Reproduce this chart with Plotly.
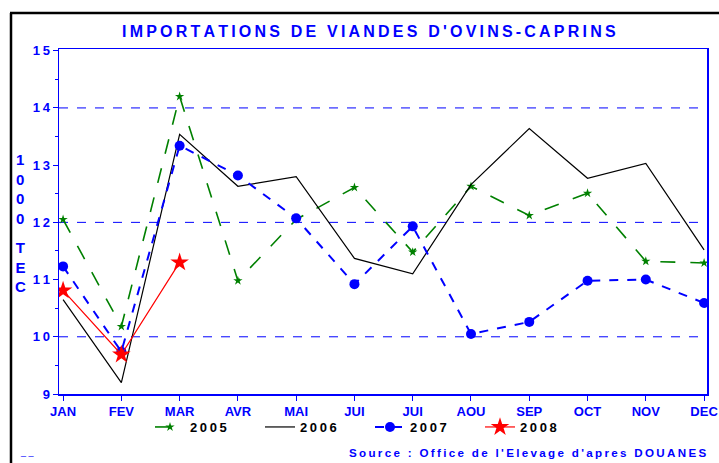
import plotly.graph_objects as go

months = ["JAN", "FEV", "MAR", "AVR", "MAI", "JUI", "JUI", "AOU", "SEP", "OCT", "NOV", "DEC"]
v2005 = [12.05, 10.18, 14.20, 10.98, 12.05, 12.61, 11.48, 12.63, 12.12, 12.51, 11.32, 11.29]
v2006 = [10.65, 9.20, 13.54, 12.63, 12.80, 11.37, 11.10, 12.66, 13.64, 12.77, 13.03, 11.52]
v2007 = [11.23, 9.74, 13.34, 12.82, 12.07, 10.92, 11.93, 10.05, 10.26, 10.98, 11.00, 10.59]
v2008 = [10.81, 9.69, 11.30]
ytick_vals = [9, 10, 11, 12, 13, 14, 15]
grid_vals = [10, 12, 14]

BLUE = "#0000ff"
FONT = "Liberation Sans"
W, H = 719, 463
L, R, T, B = 59, 12, 49, 69
PW, PH = W - L - R, H - T - B


def px(x):
    return (x - L) / PW


def py(y):
    return (H - B - y) / PH


def spaced(s, sep="\u2009"):
    return sep.join(s)


xs = list(range(len(months)))

fig = go.Figure()
fig.add_trace(go.Scatter(
    x=xs[:len(v2005)], y=v2005, name=spaced("2005"), mode="lines+markers",
    line=dict(color="#008000", width=1.6, dash="longdash"),
    marker=dict(symbol="star", size=7, color="#008000"),
))
fig.add_trace(go.Scatter(
    x=xs[:len(v2006)], y=v2006, name=spaced("2006"), mode="lines",
    line=dict(color="black", width=1.2),
))
fig.add_trace(go.Scatter(
    x=xs[:len(v2007)], y=v2007, name=spaced("2007"), mode="lines+markers",
    line=dict(color=BLUE, width=2, dash="dash"),
    marker=dict(symbol="circle", size=10, color=BLUE),
))
fig.add_trace(go.Scatter(
    x=xs[:len(v2008)], y=v2008, name=spaced("2008"), mode="lines+markers",
    line=dict(color="red", width=1.2),
    marker=dict(symbol="star", size=14, color="red"),
))

yr = [9, 15.03]
fig.update_layout(
    width=W, height=H,
    margin=dict(l=L, r=R, t=T, b=B, autoexpand=False),
    paper_bgcolor="white", plot_bgcolor="white",
    font=dict(family=FONT, color=BLUE),
    hovermode=False,
    showlegend=True,
    legend=dict(
        orientation="h", x=px(150), y=py(412), xanchor="left", yanchor="top",
        font=dict(family=FONT, size=13, color="black", weight="bold"),
        entrywidth=65, entrywidthmode="pixels", bgcolor="rgba(0,0,0,0)",
        tracegroupgap=0,
    ),
    xaxis=dict(
        range=[-0.07, 11.05], tickmode="array", tickvals=xs, ticktext=months,
        showgrid=False, zeroline=False, showline=True, linecolor=BLUE, linewidth=1.5,
        mirror=True, ticks="outside", ticklen=5, tickcolor=BLUE,
        tickfont=dict(family=FONT, size=13, color=BLUE, weight="bold"),
    ),
    yaxis=dict(
        range=yr, tickmode="array", tickvals=ytick_vals,
        ticktext=[spaced(str(v)) for v in ytick_vals],
        showgrid=False, zeroline=False, showline=True, linecolor=BLUE, linewidth=1.5,
        mirror=True, ticks="outside", ticklen=5, tickcolor=BLUE,
        minor=dict(ticks="outside", ticklen=3, dtick=0.5, tick0=9, tickcolor=BLUE, showgrid=False),
        tickfont=dict(family=FONT, size=13, color=BLUE, weight="bold"),
    ),
)

# dashed reference lines
for g in grid_vals:
    fig.add_shape(type="line", xref="paper", yref="y", x0=0, x1=1, y0=g, y1=g,
                  layer="below", line=dict(color=BLUE, width=1, dash="dash"))

anns = [
    dict(text=spaced("IMPORTATIONS DE VIANDES D'OVINS-CAPRINS"),
         x=px(369), y=py(31), font=dict(size=16, weight="bold", color=BLUE)),
    dict(text="1<br>0<br>0<br>0", x=px(20), y=py(189), font=dict(size=15, weight="bold", color=BLUE)),
    dict(text="T<br>E<br>C", x=px(20), y=py(267), font=dict(size=15, weight="bold", color=BLUE)),
    dict(text=spaced("Source : Office de l'Elevage d'apres DOUANES"),
         x=px(347), y=py(452), xanchor="left", font=dict(size=11.6, weight="bold", color=BLUE)),
    dict(text="_ _", x=px(27), y=py(452), font=dict(size=9, color=BLUE)),
]
for a in anns:
    a.setdefault("xanchor", "center")
    fig.add_annotation(xref="paper", yref="paper", showarrow=False, yanchor="middle", **a)

# outer black frame
fig.add_shape(type="line", xref="paper", yref="paper", x0=px(11), x1=px(11), y0=py(13), y1=py(480),
              line=dict(color="black", width=2.5))
fig.add_shape(type="line", xref="paper", yref="paper", x0=px(10), x1=px(740), y0=py(13), y1=py(13),
              line=dict(color="black", width=2.5))

fig.write_html("out.html", config={"displayModeBar": False, "staticPlot": True},
               post_script="document.body.style.margin='0';")
